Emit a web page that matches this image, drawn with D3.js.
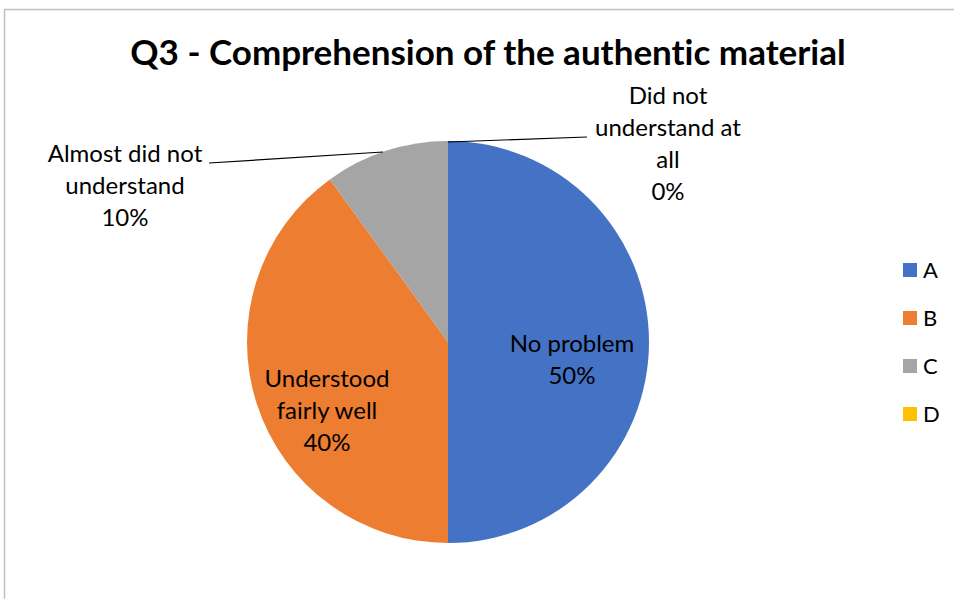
<!DOCTYPE html>
<html>
<head>
<meta charset="utf-8">
<script src="https://cdn.jsdelivr.net/npm/d3@7"></script>
<style>
  html, body { margin: 0; padding: 0; background: #fff; }
  svg { display: block; }
  text { font-family: Lato, "Open Sans", sans-serif; fill: #000; font-variant-ligatures: none; }
</style>
</head>
<body>
<svg id="chart" width="954" height="599"></svg>
<script>
// Survey answers for Q3
const categories = ["A", "B", "C", "D"];
const answerNames = [
  ["No problem"],
  ["Understood", "fairly well"],
  ["Almost did not", "understand"],
  ["Did not", "understand at", "all"]
];
const shares = [50, 40, 10, 0];
const colors = ["#4472c4", "#ed7d31", "#a5a5a5", "#ffc000"];

const svg = d3.select("#chart");
const W = 954, H = 599;
const cx = 448, cy = 342, R = 201;

// chart frame
svg.append("line").attr("x1", 4.5).attr("y1", 9.5).attr("x2", W).attr("y2", 9.5)
  .attr("stroke", "#bfbfbf").attr("stroke-width", 1.5);
svg.append("line").attr("x1", 4.5).attr("y1", 9.5).attr("x2", 4.5).attr("y2", H)
  .attr("stroke", "#bfbfbf").attr("stroke-width", 1.5);

// title
svg.append("text")
  .attr("x", 488).attr("y", 65)
  .attr("text-anchor", "middle")
  .attr("font-weight", "bold")
  .attr("font-size", 35)
  .text("Q3 - Comprehension of the authentic material");

const data = categories.map((c, i) => ({ cat: c, value: shares[i], name: answerNames[i], color: colors[i] }));
const pie = d3.pie().sort(null).value(d => d.value);
const arcs = pie(data);
const arc = d3.arc().innerRadius(0).outerRadius(R);

const g = svg.append("g").attr("transform", `translate(${cx},${cy})`);
g.selectAll("path").data(arcs).enter().append("path")
  .attr("d", arc)
  .attr("fill", d => d.data.color);

// label placement: inside for large slices, outside with leaders for small ones
const labelPos = [
  { x: 572, y: 352 },
  { x: 327, y: 387 },
  { x: 125, y: 162 },
  { x: 668, y: 104 }
];
const leaders = [
  null,
  null,
  [[209, 163], [383, 152]],
  [[587, 137], [448, 142]]
];
const lineGap = 32;

arcs.forEach((a, i) => {
  const p = labelPos[i];
  const lines = a.data.name.concat([d3.format(".0%")(a.data.value / d3.sum(shares))]);
  const t = svg.append("text")
    .attr("text-anchor", "middle")
    .attr("font-size", 24);
  lines.forEach((ln, k) => {
    t.append("tspan").attr("x", p.x).attr("y", p.y + k * lineGap).text(ln);
  });
  if (leaders[i]) {
    svg.append("path")
      .attr("d", d3.line()(leaders[i]))
      .attr("fill", "none").attr("stroke", "#000").attr("stroke-width", 1.2);
  }
});

// legend
const legendY = d3.scalePoint().domain(categories).range([270, 414]);
const lg = svg.append("g");
categories.forEach((c, i) => {
  lg.append("rect")
    .attr("x", 903).attr("y", legendY(c) - 7)
    .attr("width", 14).attr("height", 14)
    .attr("fill", colors[i]);
  lg.append("text")
    .attr("x", 923).attr("y", legendY(c) + 7.5)
    .attr("font-size", 22)
    .text(c);
});
</script>
</body>
</html>
